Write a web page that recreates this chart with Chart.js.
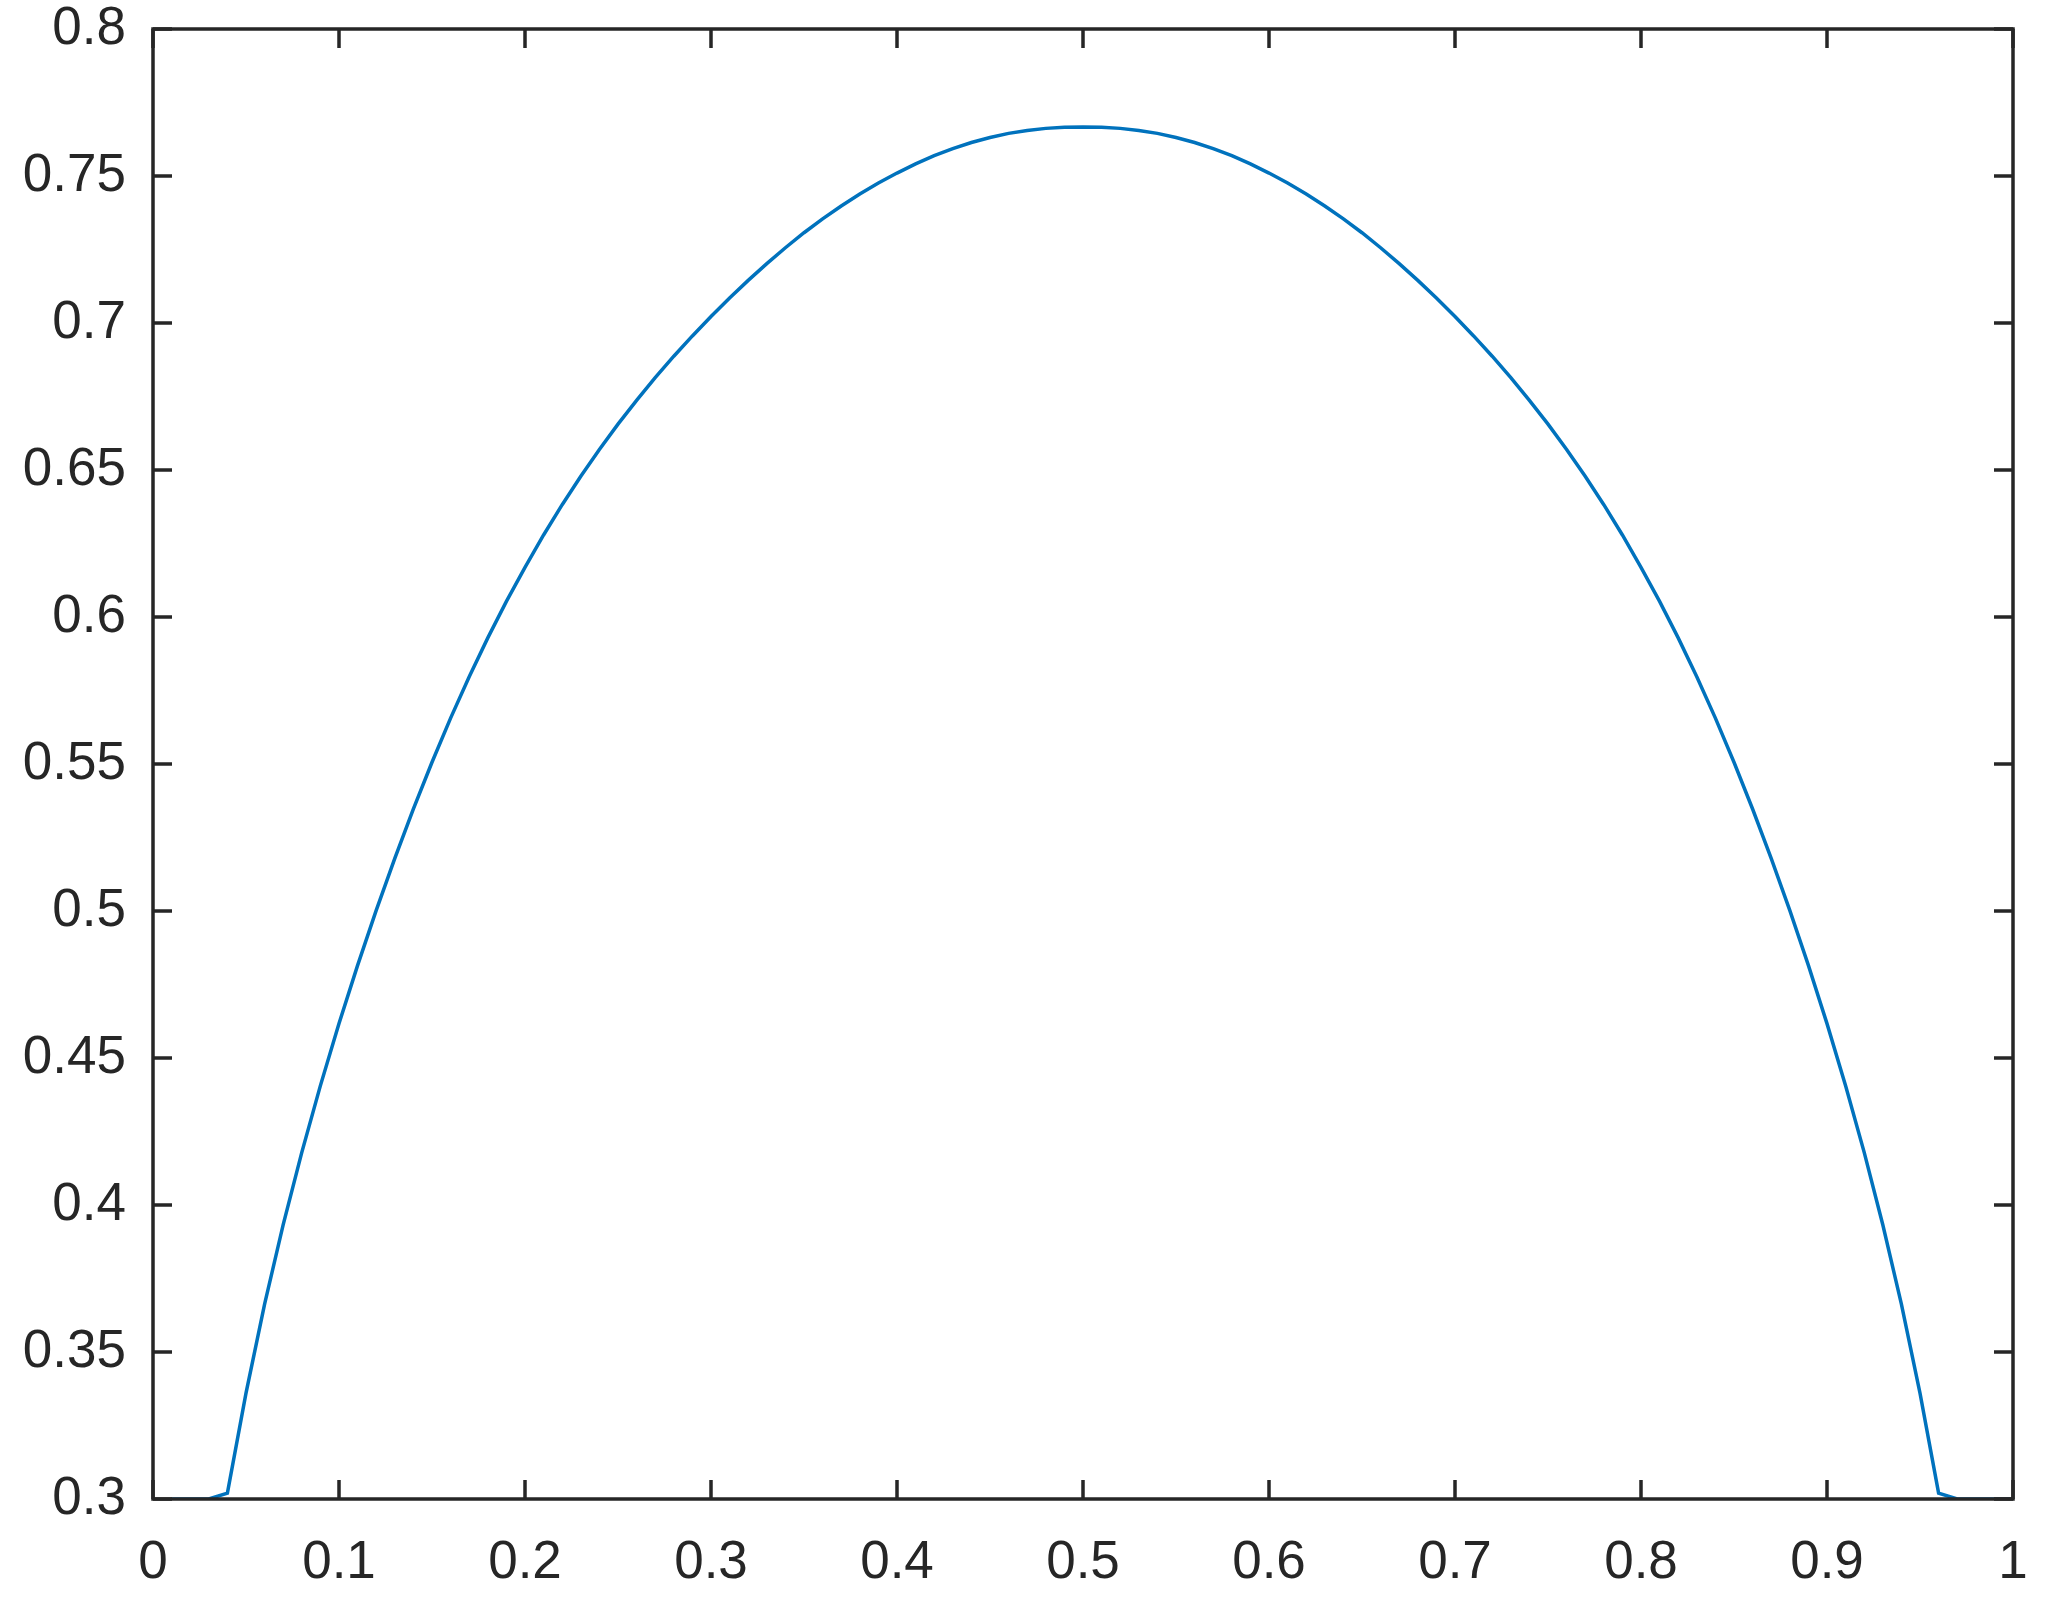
<!DOCTYPE html>
<html>
<head>
<meta charset="utf-8">
<script src="https://cdn.jsdelivr.net/npm/chart.js@4.4.1/dist/chart.umd.min.js"></script>
<style>
  html, body { margin: 0; padding: 0; background: #fff; }
  canvas { display: block; }
</style>
</head>
<body>
<canvas id="myChart" width="2052" height="1613"></canvas>
<script>
// x values (0.01 ... 1.00)
var xs = [0.01,0.02,0.03,0.04,0.05,0.06,0.07,0.08,0.09,0.10,
          0.11,0.12,0.13,0.14,0.15,0.16,0.17,0.18,0.19,0.20,
          0.21,0.22,0.23,0.24,0.25,0.26,0.27,0.28,0.29,0.30,
          0.31,0.32,0.33,0.34,0.35,0.36,0.37,0.38,0.39,0.40,
          0.41,0.42,0.43,0.44,0.45,0.46,0.47,0.48,0.49,0.50,
          0.51,0.52,0.53,0.54,0.55,0.56,0.57,0.58,0.59,0.60,
          0.61,0.62,0.63,0.64,0.65,0.66,0.67,0.68,0.69,0.70,
          0.71,0.72,0.73,0.74,0.75,0.76,0.77,0.78,0.79,0.80,
          0.81,0.82,0.83,0.84,0.85,0.86,0.87,0.88,0.89,0.90,
          0.91,0.92,0.93,0.94,0.95,0.96,0.97,0.98,0.99,1.00];

// curve values
var ys = [0.3000,0.3000,0.3000,0.3020,0.3360,0.3663,0.3933,0.4179,0.4406,0.4617,
          0.4815,0.5002,0.5179,0.5347,0.5506,0.5656,0.5797,0.5929,0.6053,0.6169,
          0.6279,0.6382,0.6479,0.6570,0.6656,0.6737,0.6814,0.6887,0.6956,0.7022,
          0.7085,0.7145,0.7202,0.7256,0.7307,0.7354,0.7398,0.7439,0.7476,0.7510,
          0.7541,0.7569,0.7593,0.7614,0.7631,0.7645,0.7655,0.7662,0.7666,0.7667,
          0.7666,0.7662,0.7655,0.7645,0.7631,0.7614,0.7593,0.7569,0.7541,0.7510,
          0.7476,0.7439,0.7398,0.7354,0.7307,0.7256,0.7202,0.7145,0.7085,0.7022,
          0.6956,0.6887,0.6814,0.6737,0.6656,0.6570,0.6479,0.6382,0.6279,0.6169,
          0.6053,0.5929,0.5797,0.5656,0.5506,0.5347,0.5179,0.5002,0.4815,0.4617,
          0.4406,0.4179,0.3933,0.3663,0.3360,0.3020,0.3000,0.3000,0.3000,0.3000];

var xTicks = [0,0.1,0.2,0.3,0.4,0.5,0.6,0.7,0.8,0.9,1];
var yTicks = [0.3,0.35,0.4,0.45,0.5,0.55,0.6,0.65,0.7,0.75,0.8];

var axisColor = '#262626';

// box + inward ticks on all four sides, like matlab
var boxPlugin = {
  id: 'box',
  afterDatasetsDraw: function(chart) {
    var ctx = chart.ctx;
    var a = chart.chartArea;
    var sx = chart.scales.x, sy = chart.scales.y;
    var len = 19;
    ctx.save();
    ctx.strokeStyle = axisColor;
    ctx.lineWidth = 3.5;
    ctx.beginPath();
    xTicks.forEach(function(v){
      var px = sx.getPixelForValue(v);
      ctx.moveTo(px, a.bottom); ctx.lineTo(px, a.bottom - len);
      ctx.moveTo(px, a.top); ctx.lineTo(px, a.top + len);
    });
    yTicks.forEach(function(v){
      var py = sy.getPixelForValue(v);
      ctx.moveTo(a.left, py); ctx.lineTo(a.left + len, py);
      ctx.moveTo(a.right, py); ctx.lineTo(a.right - len, py);
    });
    ctx.stroke();
    ctx.strokeRect(a.left, a.top, a.right - a.left, a.bottom - a.top);
    ctx.restore();
  }
};

var ctx = document.getElementById('myChart').getContext('2d');
var chart = new Chart(ctx, {
  type: 'line',
  data: {
    datasets: [{
      data: xs.map(function(x, i){ return {x: x, y: ys[i]}; }),
      borderColor: '#0072BD',
      borderWidth: 3.5,
      pointRadius: 0,
      tension: 0,
      fill: false
    }]
  },
  options: {
    responsive: false,
    animation: false,
    events: [],
    layout: { padding: { top: 29, right: 39, left: 0, bottom: 0 } },
    plugins: { legend: { display: false }, tooltip: { enabled: false } },
    scales: {
      x: {
        type: 'linear', min: 0, max: 1,
        afterBuildTicks: function(s){ s.ticks = xTicks.map(function(v){ return {value: v}; }); },
        afterFit: function(s){ s.height = 114; s.paddingLeft = 0; s.paddingRight = 0; },
        grid: { display: false, drawTicks: false },
        border: { display: false },
        ticks: {
          color: axisColor, padding: 38, maxRotation: 0,
          font: { family: 'Liberation Sans', size: 53, lineHeight: 1 },
          callback: function(v){ return String(+v.toFixed(2)); }
        }
      },
      y: {
        type: 'linear', min: 0.3, max: 0.8,
        afterBuildTicks: function(s){ s.ticks = yTicks.map(function(v){ return {value: v}; }); },
        afterFit: function(s){ s.width = 153; s.paddingTop = 0; s.paddingBottom = 0; },
        grid: { display: false, drawTicks: false },
        border: { display: false },
        ticks: {
          color: axisColor, padding: 27,
          font: { family: 'Liberation Sans', size: 53, lineHeight: 1 },
          callback: function(v){ return String(+v.toFixed(2)); }
        }
      }
    }
  },
  plugins: [boxPlugin]
});
</script>
</body>
</html>
